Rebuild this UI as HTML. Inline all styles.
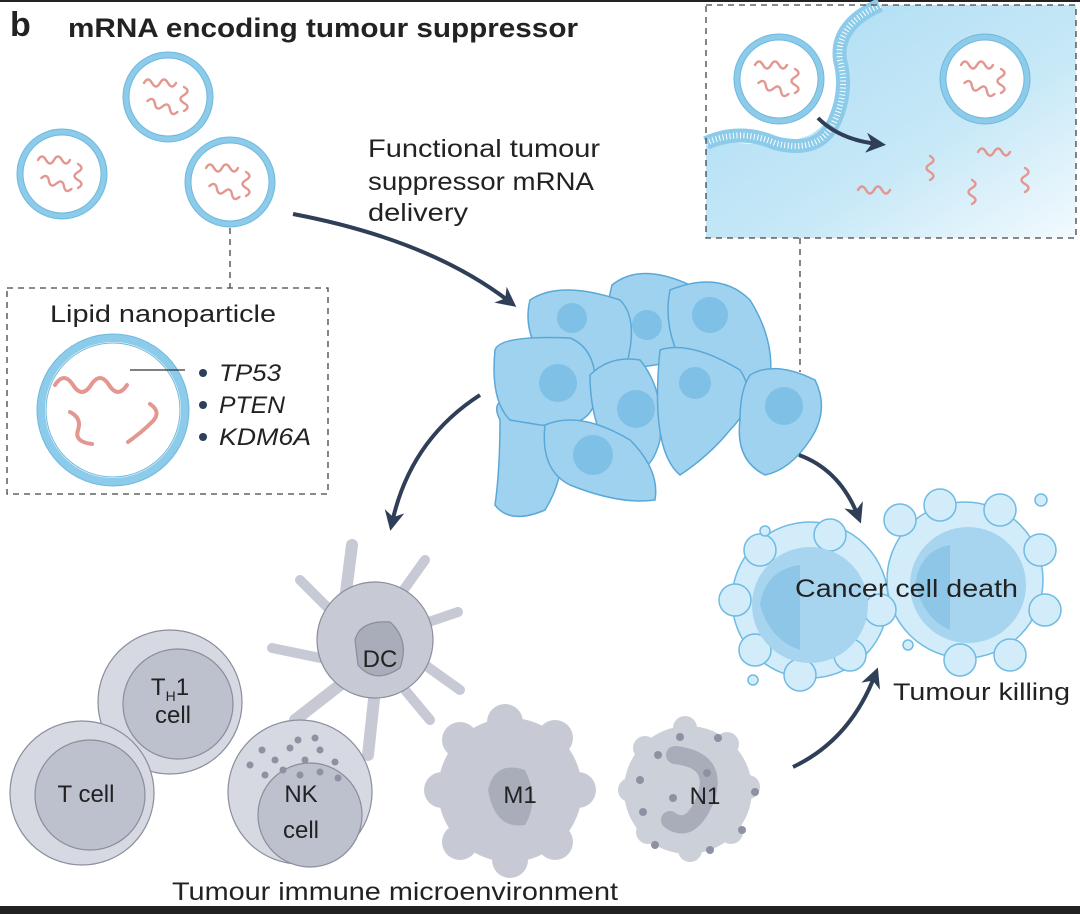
<!DOCTYPE html>
<html><head><meta charset="utf-8"><style>
html,body{margin:0;padding:0;background:#fff}
svg{display:block}
text{font-family:"Liberation Sans",sans-serif;fill:#222}
</style></head><body>
<svg width="1080" height="914" viewBox="0 0 1080 914" xmlns="http://www.w3.org/2000/svg">
<defs>
<linearGradient id="bg" x1="0" y1="0" x2="1" y2="1"><stop offset="0" stop-color="#a9dcf3"/><stop offset="0.6" stop-color="#c7e8f7"/><stop offset="1" stop-color="#f2fafe"/></linearGradient>
<path id="sq" d="M0,0 q4,-7 8,0 t8,0 t8,0 t8,0" fill="none" stroke="#e39790" stroke-width="2.4" stroke-linecap="round"/>
<path id="sqv" d="M0,0 q7,4 0,8 t0,8 t0,8" fill="none" stroke="#e39790" stroke-width="2.4" stroke-linecap="round"/>
<g id="lnp">
<circle r="42" fill="#fff" stroke="#8ccbe9" stroke-width="6"/>
<circle r="45" fill="none" stroke="#6fb8de" stroke-width="1"/>
<circle r="39" fill="none" stroke="#6fb8de" stroke-width="1"/>
<use href="#sq" x="-24" y="-14"/><use href="#sqv" x="16" y="-10"/><use href="#sq" x="-22" y="8" transform="rotate(20 -10 10)"/>
</g>
<marker id="ah" viewBox="0 0 10 10" refX="6" refY="5" markerWidth="5" markerHeight="5" orient="auto"><path d="M0,0 L10,5 L0,10 L3,5z" fill="#2e3f57"/></marker>
</defs>
<rect x="0" y="0" width="1080" height="2" fill="#222"/>
<rect x="0" y="906" width="1080" height="8" fill="#222"/>

<text x="10" y="36" font-size="34" font-weight="bold">b</text>
<text x="68" y="37" font-size="27" font-weight="bold" textLength="510" lengthAdjust="spacingAndGlyphs">mRNA encoding tumour suppressor</text>

<use href="#lnp" x="168" y="97"/>
<use href="#lnp" x="62" y="174"/>
<use href="#lnp" x="230" y="182"/>
<line x1="230" y1="228" x2="230" y2="288" stroke="#444" stroke-dasharray="6,5" stroke-width="1.3"/>

<rect x="7" y="288" width="321" height="206" fill="none" stroke="#444" stroke-dasharray="6,5" stroke-width="1.3"/>
<text x="50" y="322" font-size="24" textLength="226" lengthAdjust="spacingAndGlyphs">Lipid nanoparticle</text>
<circle cx="113" cy="410" r="72" fill="#fff" stroke="#8ccbe9" stroke-width="8"/>
<circle cx="113" cy="410" r="76" fill="none" stroke="#6fb8de" stroke-width="1"/>
<circle cx="113" cy="410" r="67" fill="none" stroke="#6fb8de" stroke-width="1"/>
<path d="M55,385 q9,-14 18,0 t18,0 t18,0 t18,0" fill="none" stroke="#e39790" stroke-width="4" stroke-linecap="round"/>
<path d="M70,412 q12,6 8,18 t14,14" fill="none" stroke="#e39790" stroke-width="4" stroke-linecap="round"/>
<path d="M150,404 q12,8 2,18 t-24,20" fill="none" stroke="#e39790" stroke-width="4" stroke-linecap="round"/>
<line x1="130" y1="370" x2="185" y2="370" stroke="#333" stroke-width="1.2"/>
<circle cx="203" cy="373" r="4" fill="#2e3f57"/><circle cx="203" cy="405" r="4" fill="#2e3f57"/><circle cx="203" cy="437" r="4" fill="#2e3f57"/>
<text x="219" y="381" font-size="24" font-style="italic" textLength="62" lengthAdjust="spacingAndGlyphs">TP53</text>
<text x="219" y="413" font-size="24" font-style="italic" textLength="66" lengthAdjust="spacingAndGlyphs">PTEN</text>
<text x="219" y="445" font-size="24" font-style="italic" textLength="92" lengthAdjust="spacingAndGlyphs">KDM6A</text>

<text font-size="25"><tspan x="368" y="157" textLength="232" lengthAdjust="spacingAndGlyphs">Functional tumour</tspan><tspan x="368" y="190" textLength="226" lengthAdjust="spacingAndGlyphs">suppressor mRNA</tspan><tspan x="368" y="221" textLength="100" lengthAdjust="spacingAndGlyphs">delivery</tspan></text>
<path d="M293,214 Q430,240 510,302" fill="none" stroke="#2e3f57" stroke-width="4" marker-end="url(#ah)"/>

<!-- top right box -->
<rect x="706" y="5" width="370" height="233" fill="url(#bg)"/>
<path d="M706,5 L880,5 Q840,20 845,60 Q850,110 810,135 Q770,150 720,140 L706,142 Z" fill="#fff"/>
<path d="M706,143 Q740,128 775,143 Q820,155 835,120 Q848,90 840,60 Q835,25 880,5" fill="none" stroke="#8ccbe9" stroke-width="14"/>
<path d="M706,143 Q740,128 775,143 Q820,155 835,120 Q848,90 840,60 Q835,25 880,5" fill="none" stroke="#fff" stroke-width="6" stroke-dasharray="1,2.5"/>
<rect x="706" y="5" width="370" height="233" fill="none" stroke="#444" stroke-dasharray="6,5" stroke-width="1.3"/>
<use href="#lnp" x="779" y="79"/>
<use href="#lnp" x="985" y="79"/>
<path d="M818,118 Q840,140 878,144" fill="none" stroke="#2e3f57" stroke-width="4" marker-end="url(#ah)"/>
<use href="#sq" x="858" y="190"/><use href="#sq" x="978" y="152"/><use href="#sqv" x="930" y="156"/><use href="#sqv" x="972" y="180"/><use href="#sqv" x="1025" y="168"/>
<line x1="800" y1="238" x2="800" y2="372" stroke="#444" stroke-dasharray="6,5" stroke-width="1.3"/>

<!-- tumour cluster -->
<g stroke="#5aa8d8" stroke-width="1.5" fill="#9fd2ef">
<path d="M500,420 Q490,400 510,400 L560,415 Q570,470 545,510 Q510,525 495,505 Q500,470 500,420Z"/>
<path d="M612,285 Q640,262 690,285 Q710,320 690,360 L620,370 Q600,330 612,285Z"/>
<path d="M670,290 Q720,270 750,300 Q775,340 770,380 L700,390 Q660,340 670,290Z"/>
<path d="M530,300 Q560,280 620,300 Q640,320 625,370 L560,380 Q520,340 530,300Z"/>
<path d="M495,350 Q500,335 570,338 Q600,350 595,400 Q590,430 540,425 L510,420 Q490,400 495,350Z"/>
<path d="M590,375 Q610,355 640,360 Q665,390 660,440 Q650,480 620,470 Q590,430 590,375Z"/>
<path d="M660,350 Q690,340 740,370 Q760,400 730,430 Q710,455 680,475 Q650,450 660,350Z"/>
<path d="M750,375 Q775,360 815,380 Q830,410 810,440 Q790,470 765,475 Q735,460 740,420 Q740,390 750,375Z"/>
<path d="M545,425 Q580,410 630,440 Q660,470 655,500 Q620,505 570,485 Q540,470 545,425Z"/>
</g>
<g fill="#7fc0e6">
<circle cx="572" cy="318" r="15"/><circle cx="647" cy="325" r="15"/><circle cx="710" cy="315" r="18"/><circle cx="558" cy="383" r="19"/><circle cx="636" cy="409" r="19"/><circle cx="695" cy="383" r="16"/><circle cx="784" cy="406" r="19"/><circle cx="593" cy="455" r="20"/>
</g>
<path d="M480,395 Q410,440 392,523" fill="none" stroke="#2e3f57" stroke-width="4" marker-end="url(#ah)"/>
<path d="M799,455 Q840,470 858,516" fill="none" stroke="#2e3f57" stroke-width="4" marker-end="url(#ah)"/>

<!-- dead cells -->
<g fill="#d2ecfa" stroke="#6fbbe3" stroke-width="1.5">
<circle cx="965" cy="580" r="78"/><circle cx="810" cy="600" r="78"/>
<circle cx="900" cy="520" r="16"/><circle cx="940" cy="505" r="16"/><circle cx="1000" cy="510" r="16"/><circle cx="1040" cy="550" r="16"/><circle cx="1045" cy="610" r="16"/><circle cx="1010" cy="655" r="16"/><circle cx="960" cy="660" r="16"/>
<circle cx="760" cy="550" r="16"/><circle cx="735" cy="600" r="16"/><circle cx="755" cy="650" r="16"/><circle cx="800" cy="675" r="16"/><circle cx="850" cy="655" r="16"/><circle cx="830" cy="535" r="16"/><circle cx="880" cy="610" r="16"/>
<circle cx="765" cy="531" r="5"/><circle cx="1041" cy="500" r="6"/><circle cx="753" cy="680" r="5"/><circle cx="908" cy="645" r="5"/>
</g>
<g fill="#a7d5ef"><circle cx="810" cy="605" r="58"/><circle cx="968" cy="585" r="58"/></g>
<g fill="#8ec6e8"><path d="M760,605 Q765,570 800,565 L800,650 Q770,640 760,605Z"/><path d="M915,585 Q920,550 950,545 L950,630 Q925,620 915,585Z"/></g>
<text x="795" y="597" font-size="25" textLength="223" lengthAdjust="spacingAndGlyphs">Cancer cell death</text>
<text x="893" y="700" font-size="24" textLength="177" lengthAdjust="spacingAndGlyphs">Tumour killing</text>
<path d="M793,767 Q850,740 875,675" fill="none" stroke="#2e3f57" stroke-width="4" marker-end="url(#ah)"/>

<!-- immune cells -->
<g stroke="#8a8e9c" stroke-width="1.2">
<circle cx="170" cy="702" r="72" fill="#d6d9e2"/><circle cx="178" cy="704" r="55" fill="#bdc1cd"/>
<circle cx="82" cy="793" r="72" fill="#d6d9e2"/><circle cx="90" cy="795" r="55" fill="#bdc1cd"/>
</g>
<g stroke="#c7cad4" stroke-linecap="round" fill="none">
<path d="M345,600 L352,545" stroke-width="12"/><path d="M330,610 L300,580" stroke-width="10"/><path d="M400,595 L425,560" stroke-width="10"/><path d="M420,625 L458,612" stroke-width="10"/><path d="M425,665 L460,690" stroke-width="10"/><path d="M330,660 L272,648" stroke-width="10"/><path d="M340,685 L295,720" stroke-width="12"/><path d="M375,690 L368,755" stroke-width="12"/><path d="M405,690 L430,720" stroke-width="10"/>
</g>
<g stroke="#8a8e9c" stroke-width="1.2">
<circle cx="375" cy="640" r="58" fill="#c7cad4"/>
<path d="M355,640 Q360,620 390,622 Q410,640 400,668 Q375,685 358,665Z" fill="#a9adba"/>
<circle cx="300" cy="792" r="72" fill="#d6d9e2"/><circle cx="310" cy="815" r="52" fill="#bdc1cd"/>
</g>
<g fill="#c7cad4">
<circle cx="510" cy="790" r="72"/>
<circle cx="460" cy="740" r="18"/><circle cx="505" cy="722" r="18"/><circle cx="555" cy="738" r="18"/><circle cx="578" cy="790" r="18"/><circle cx="555" cy="842" r="18"/><circle cx="510" cy="860" r="18"/><circle cx="460" cy="842" r="18"/><circle cx="442" cy="790" r="18"/>
</g>
<path d="M488,790 Q495,760 525,770 Q540,800 525,825 Q495,830 488,790Z" fill="#a9adba"/>
<g fill="#ccd0d9">
<circle cx="688" cy="790" r="64"/>
<circle cx="645" cy="748" r="12"/><circle cx="685" cy="728" r="12"/><circle cx="727" cy="744" r="12"/><circle cx="748" cy="787" r="12"/><circle cx="731" cy="832" r="12"/><circle cx="690" cy="850" r="12"/><circle cx="648" cy="832" r="12"/><circle cx="630" cy="790" r="12"/>
</g>
<path d="M675,755 Q720,760 705,800 Q690,835 670,820" fill="none" stroke="#a9adba" stroke-width="18" stroke-linecap="round"/>
<g fill="#8d91a1">
<circle cx="262" cy="750" r="3.5"/><circle cx="275" cy="760" r="3.5"/><circle cx="290" cy="748" r="3.5"/><circle cx="305" cy="760" r="3.5"/><circle cx="320" cy="750" r="3.5"/><circle cx="335" cy="762" r="3.5"/><circle cx="250" cy="765" r="3.5"/><circle cx="265" cy="775" r="3.5"/><circle cx="283" cy="770" r="3.5"/><circle cx="300" cy="775" r="3.5"/><circle cx="320" cy="772" r="3.5"/><circle cx="338" cy="778" r="3.5"/><circle cx="298" cy="740" r="3.5"/><circle cx="315" cy="738" r="3.5"/>
<circle cx="658" cy="755" r="4"/><circle cx="640" cy="780" r="4"/><circle cx="643" cy="812" r="4"/><circle cx="655" cy="845" r="4"/><circle cx="710" cy="850" r="4"/><circle cx="742" cy="830" r="4"/><circle cx="755" cy="792" r="4"/><circle cx="718" cy="738" r="4"/><circle cx="680" cy="737" r="4"/><circle cx="673" cy="798" r="4"/><circle cx="707" cy="773" r="4"/>
</g>
<text x="170" y="695" font-size="24" text-anchor="middle">T<tspan font-size="14" dy="6">H</tspan><tspan dy="-6">1</tspan></text>
<text x="173" y="723" font-size="24" text-anchor="middle">cell</text>
<text x="86" y="802" font-size="24" text-anchor="middle">T cell</text>
<text x="301" y="802" font-size="24" text-anchor="middle">NK</text>
<text x="301" y="838" font-size="24" text-anchor="middle">cell</text>
<text x="380" y="667" font-size="24" text-anchor="middle">DC</text>
<text x="520" y="803" font-size="24" text-anchor="middle">M1</text>
<text x="705" y="804" font-size="24" text-anchor="middle">N1</text>
<text x="172" y="900" font-size="25" textLength="446" lengthAdjust="spacingAndGlyphs">Tumour immune microenvironment</text>
</svg>
</body></html>
